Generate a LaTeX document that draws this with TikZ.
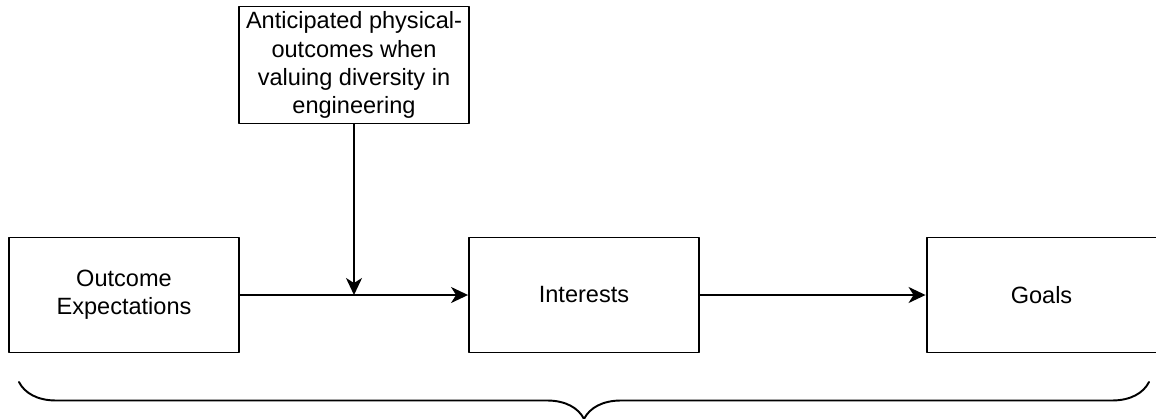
\documentclass[tikz,border=0pt]{standalone}
\usepackage{fontspec}
\setmainfont{Liberation Sans}
\usetikzlibrary{arrows.meta,decorations.pathreplacing}
\tikzset{
  stagebox/.style={draw,line width=1.1pt,minimum width=4.6cm,minimum height=2.3cm,
    align=center,inner sep=0pt,font=\fontsize{13.4}{16}\selectfont},
  flow/.style={line width=1.1pt,-{Stealth[length=0.34cm,width=0.32cm,inset=0.1cm]}}
}
\begin{document}
\begin{tikzpicture}[x=0.02cm,y=-0.02cm,line cap=round,line join=round]
  \useasboundingbox (0,0) rectangle (1156,419);
  \node[stagebox] (oe) at (124,295) {Outcome\\Expectations};
  \node[stagebox] (int) at (584,295) {Interests};
  \node[stagebox] (goals) at (1041.5,295) {Goals};
  \node[stagebox,minimum height=2.34cm] (phys) at (354,65)
    {Anticipated physical-\\outcomes when\\valuing diversity in\\engineering};
  \coordinate (join) at (phys.south |- oe.east);
  \draw[flow] (oe) -- (int);
  \draw[flow] (int) -- (goals);
  \draw[flow] (phys) -- (join);
  % brace under the three stages
  \draw[line width=1.1pt,decorate,decoration={brace,mirror,amplitude=0.74cm}]
    (19,382) -- (1149,382);
\end{tikzpicture}
\end{document}
